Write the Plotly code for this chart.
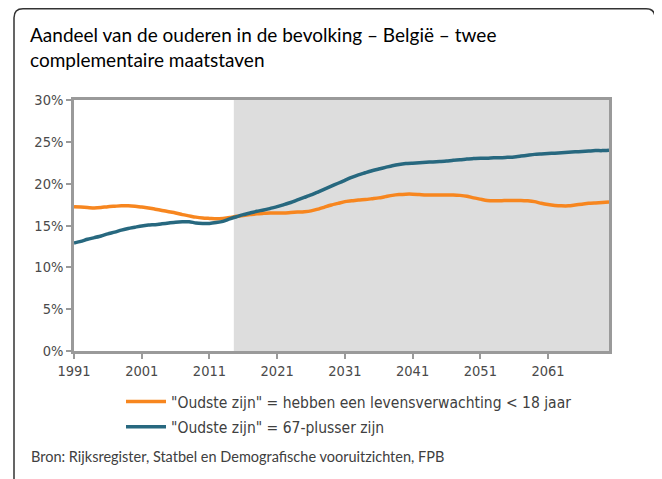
import plotly.graph_objects as go

years = list(range(1991, 2071))

levensverwachting = [
    17.25, 17.2, 17.15, 17.1, 17.15, 17.25, 17.3, 17.35, 17.35, 17.3,
    17.2, 17.1, 16.95, 16.8, 16.65, 16.5, 16.3, 16.15, 16.0, 15.9,
    15.85, 15.8, 15.85, 15.95, 16.1, 16.2, 16.3, 16.4, 16.45, 16.5,
    16.5, 16.5, 16.55, 16.6, 16.65, 16.75, 16.95, 17.2, 17.45, 17.65,
    17.85, 17.95, 18.05, 18.1, 18.2, 18.3, 18.45, 18.6, 18.7, 18.75,
    18.75, 18.7, 18.65, 18.65, 18.65, 18.65, 18.65, 18.6, 18.5, 18.3,
    18.15, 18.0, 17.95, 17.95, 18.0, 18.0, 18.0, 17.95, 17.85, 17.65,
    17.5, 17.4, 17.35, 17.35, 17.45, 17.55, 17.65, 17.7, 17.75, 17.8,
]

plus67 = [
    12.9, 13.1, 13.35, 13.55, 13.75, 14.0, 14.2, 14.45, 14.65, 14.8,
    14.95, 15.05, 15.1, 15.2, 15.3, 15.4, 15.45, 15.45, 15.3, 15.25,
    15.25, 15.35, 15.5, 15.8, 16.05, 16.3, 16.5, 16.7, 16.85, 17.05,
    17.25, 17.5, 17.75, 18.05, 18.35, 18.65, 19.0, 19.35, 19.7, 20.05,
    20.4, 20.75, 21.05, 21.3, 21.55, 21.75, 21.95, 22.15, 22.3, 22.4,
    22.45, 22.5, 22.55, 22.6, 22.65, 22.7, 22.8, 22.85, 22.95, 23.0,
    23.05, 23.05, 23.1, 23.1, 23.15, 23.2, 23.3, 23.4, 23.5, 23.55,
    23.6, 23.65, 23.7, 23.75, 23.8, 23.85, 23.9, 23.95, 23.95, 24.0,
]

x_ticks = [1991, 2001, 2011, 2021, 2031, 2041, 2051, 2061]
y_ticks = [0, 5, 10, 15, 20, 25, 30]
y_tick_labels = ["0%", "5%", "10%", "15%", "20%", "25%", "30%"]
projection_start = 2014.6

title_text = "Aandeel van de ouderen in de bevolking – België – twee<br>complementaire maatstaven"
source_text = "Bron: Rijksregister, Statbel en Demografische vooruitzichten, FPB"
name1 = '"Oudste zijn" = hebben een levensverwachting < 18 jaar'
name2 = '"Oudste zijn" = 67-plusser zijn'

# the page body has an 8px margin, so the figure is 8px smaller and shifted
W, H = 654, 471
L, R, T, B = 66, 53, 92, 128
pw, ph = W - L - R, H - T - B

def px(xp):
    return (xp - L) / pw

def py(yp):
    return (H - B - yp) / ph

fig = go.Figure()
fig.add_trace(go.Scatter(x=years, y=levensverwachting, mode="lines", name=name1, legendgroup="a",
                         line=dict(color="#F7861F", width=3.5, shape="spline", smoothing=0.6)))
fig.add_trace(go.Scatter(x=years, y=plus67, mode="lines", name=name2, legendgroup="b",
                         line=dict(color="#27687F", width=3.5, shape="spline", smoothing=0.6)))

fig.add_shape(type="rect", xref="x", yref="y", x0=projection_start, x1=2070, y0=0, y1=30,
              fillcolor="#DDDDDD", line=dict(width=0), layer="below")

# rounded frame
x0, x1 = px(6), px(647)
y0, y1 = py(0.75), py(490)
rx, ry = 9 / pw, 9 / ph
path = (f"M {x0},{y1} L {x0},{y0-ry} Q {x0},{y0} {x0+rx},{y0} "
        f"L {x1-rx},{y0} Q {x1},{y0} {x1},{y0-ry} L {x1},{y1}")
fig.add_shape(type="path", xref="paper", yref="paper", path=path,
              line=dict(color="#333333", width=1.5))

fig.add_annotation(text=title_text, xref="paper", yref="paper", x=px(20), y=py(13),
                   xanchor="left", yanchor="top", showarrow=False, align="left",
                   font=dict(family="Lato", size=19, color="#000000"))
fig.add_annotation(text=source_text, xref="paper", yref="paper", x=px(21), y=py(448),
                   xanchor="left", yanchor="middle", showarrow=False, align="left",
                   font=dict(family="Lato", size=14.5, color="#404040"))

fig.update_layout(
    width=W, height=H,
    margin=dict(l=L, r=R, t=T, b=B),
    paper_bgcolor="white", plot_bgcolor="white",
    showlegend=True,
    legend=dict(x=px(113), y=py(377), xanchor="left", yanchor="top",
                font=dict(family="DejaVu Sans Condensed", size=15.5, color="#404040"),
                tracegroupgap=2, itemwidth=40, bgcolor="rgba(0,0,0,0)"),
    xaxis=dict(range=[1991, 2070], tickvals=x_ticks, ticktext=[str(v) for v in x_ticks],
               showgrid=False, zeroline=False, showline=True, linecolor="#9A9A9A", linewidth=2.5,
               mirror=True, ticks="outside", ticklen=5, tickwidth=2, tickcolor="#9A9A9A",
               tickfont=dict(family="DejaVu Sans Condensed", size=14.5, color="#4A4A4A")),
    yaxis=dict(range=[0, 30], tickvals=y_ticks, ticktext=y_tick_labels,
               showgrid=False, zeroline=False, showline=True, linecolor="#9A9A9A", linewidth=2.5,
               mirror=True, ticks="outside", ticklen=5, tickwidth=2, tickcolor="#9A9A9A",
               tickfont=dict(family="DejaVu Sans Condensed", size=14.5, color="#4A4A4A")),
)

fig.write_html("out.html")
